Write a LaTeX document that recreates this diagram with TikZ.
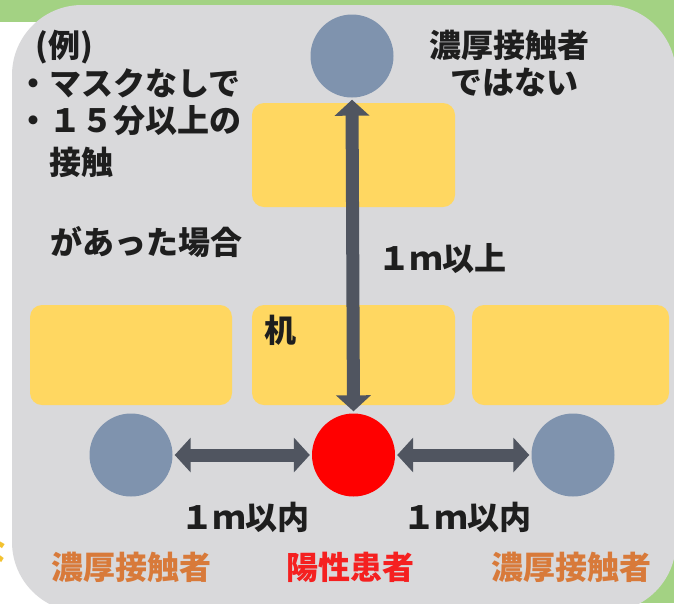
\documentclass[tikz,border=0pt]{standalone}
\usepackage{fontspec}
\setmainfont{Noto Sans CJK JP}
\usetikzlibrary{arrows.meta}
\definecolor{bggray}{HTML}{D9D9DB}
\definecolor{slidegreen}{HTML}{A3D283}
\definecolor{deskyellow}{HTML}{FFD761}
\definecolor{personblue}{HTML}{7F93AE}
\definecolor{arrowgray}{HTML}{505560}
\definecolor{textblack}{HTML}{1E1E1E}
\definecolor{contactorange}{HTML}{D87A3A}
\definecolor{patientred}{HTML}{F52020}
\definecolor{fragyellow}{HTML}{F3C230}
\begin{document}
\begin{tikzpicture}[x=1pt,y=-1pt,
  desk/.style={fill=deskyellow, rounded corners=12pt, inner sep=0},
  person/.style={circle, fill=personblue, minimum size=83pt, inner sep=0},
  patient/.style={circle, fill=red, minimum size=83pt, inner sep=0},
  lbl/.style={font=\fontsize{32}{38}\selectfont\bfseries, text=textblack, inner sep=0, anchor=base west},
  conn/.style={line width=13pt, draw=arrowgray, shorten <=2pt, shorten >=2pt,
    {Triangle[width=34pt,length=16pt]}-{Triangle[width=34pt,length=16pt]}}
]
\useasboundingbox (0,0) rectangle (674,603);
% slide background
\fill[white] (0,0) rectangle (674,603);
\fill[slidegreen] (0,0) rectangle (674,22);
\fill[slidegreen] (560,0) rectangle (674,603);
\node[lbl, text=fragyellow, anchor=base] (frag) at (-9,562) {な};
\fill[bggray, rounded corners=70pt] (12,5) rectangle (676,612);

% desks
\node[desk, minimum width=203pt, minimum height=104pt] (desktop) at (353.5,155) {};
\node[desk, minimum width=202pt, minimum height=100pt] (deskleft) at (131,355) {};
\node[desk, minimum width=203pt, minimum height=100pt] (deskmid) at (353.5,355) {};
\node[desk, minimum width=197pt, minimum height=100pt] (deskright) at (570.5,355) {};

% people
\node[person] (ptop) at (352,56) {};
\node[person] (pleft) at (131,455) {};
\node[person] (pright) at (573,455) {};
\node[patient] (ppos) at (353.5,455) {};

% connectors
\draw[conn] (ppos.north) -- (ptop.south);
\draw[conn] (pleft.east) -- (ppos.west);
\draw[conn] (ppos.east) -- (pright.west);

% left text
\node[lbl] (ex) at (35,57) {(例)};
\node[lbl] (l1) at (17,95) {・マスクなしで};
\node[lbl] (l2) at (17,132) {・１５分以上の};
\node[lbl] (l3) at (49,174) {接触};
\node[lbl] (l4) at (50,254) {があった場合};

% top right text
\node[lbl, anchor=base] (nc1) at (509,57) {濃厚接触者};
\node[lbl, anchor=base] (nc2) at (514,94) {ではない};

% distances
\node[lbl] (d1) at (378,270) {１ｍ以上};
\node[lbl] (desklbl) at (264,342) {机};
\node[lbl] (d2) at (181,529) {１ｍ以内};
\node[lbl] (d3) at (403,529) {１ｍ以内};

% bottom labels
\node[lbl, text=contactorange] (c1) at (51,579) {濃厚接触者};
\node[lbl, text=patientred] (pp) at (286,579) {陽性患者};
\node[lbl, text=contactorange] (c2) at (491,579) {濃厚接触者};
\end{tikzpicture}
\end{document}
